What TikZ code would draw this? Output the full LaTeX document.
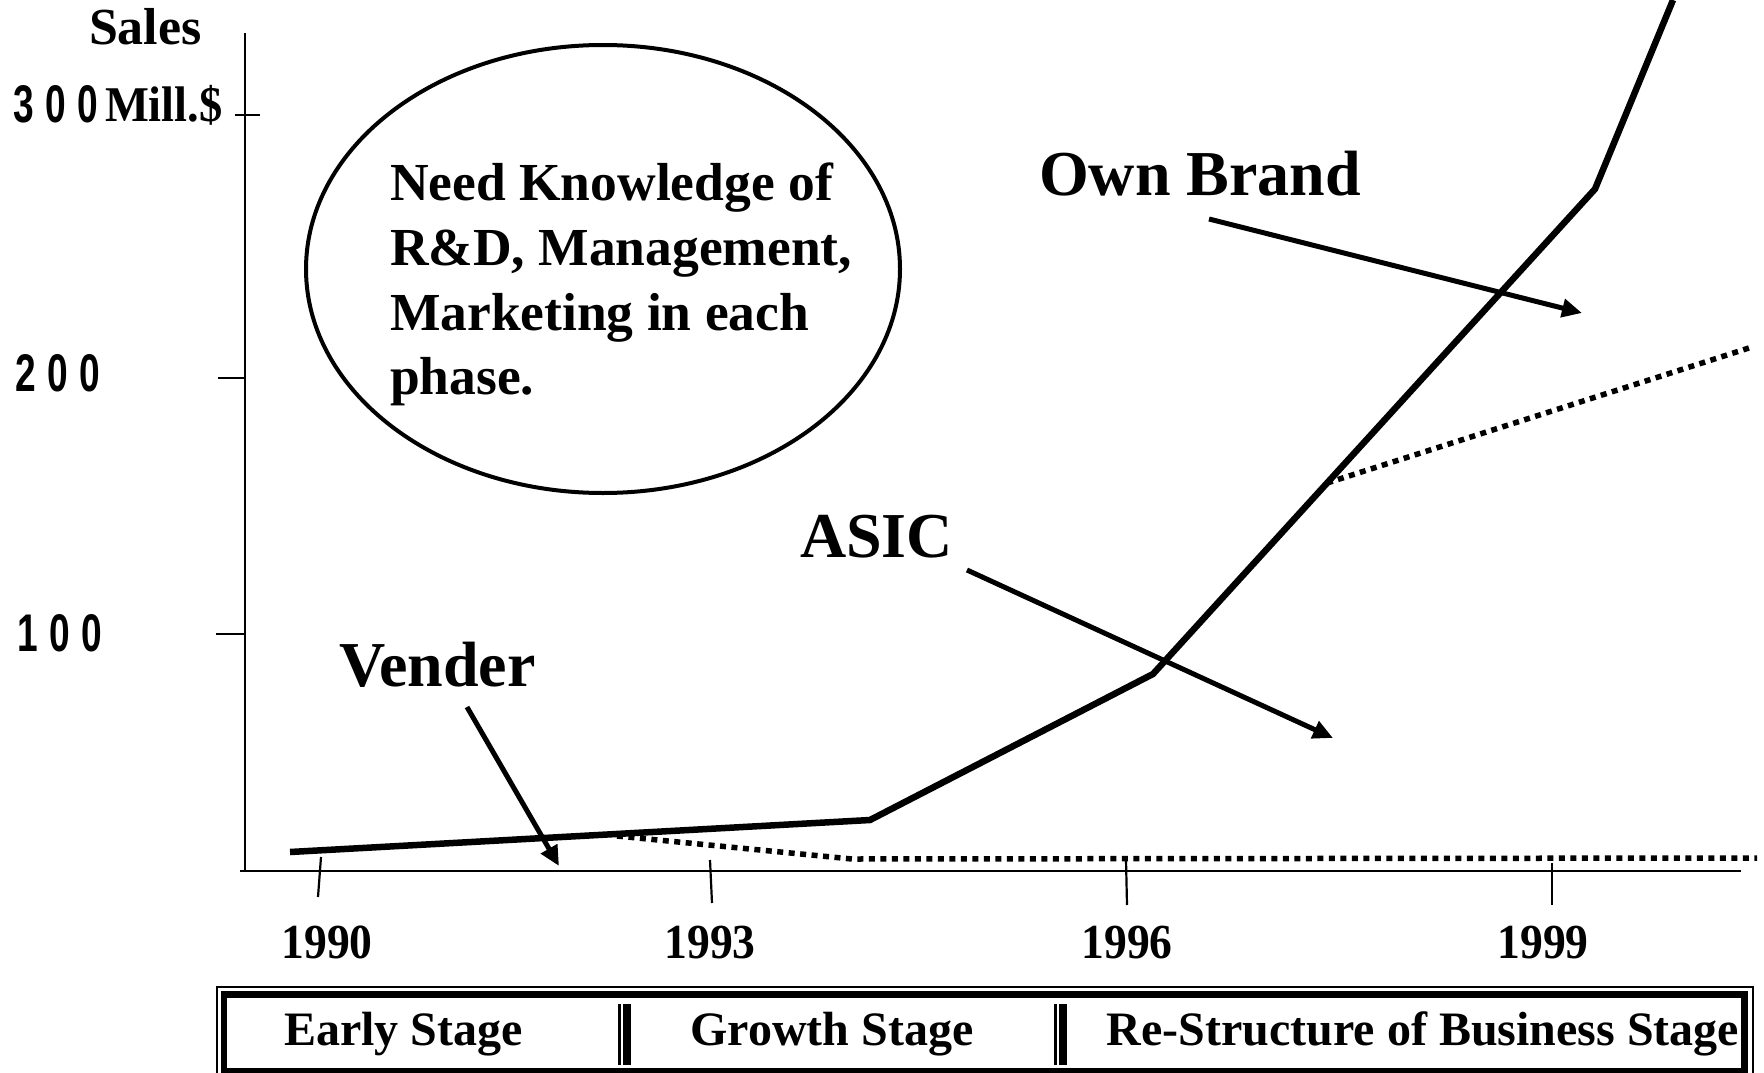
\documentclass[tikz,border=0pt]{standalone}
\usepackage{fontspec}
\setmainfont{Liberation Serif}
\newfontfamily\narrowsans[FakeStretch=0.7]{Liberation Sans}
\newfontfamily\condserif[FakeStretch=0.93]{Liberation Serif}
\usetikzlibrary{arrows.meta,shapes.geometric}
\newcommand{\dg}{\hspace{11.4pt}}
\begin{document}
\begin{tikzpicture}[x=1pt,y=-1pt,
  txt/.style={inner sep=0pt, outer sep=0pt},
  biglabel/.style={txt, anchor=base west, font=\bfseries\fontsize{64}{77}\selectfont},
  bubbletext/.style={txt, anchor=base west, font=\bfseries\fontsize{53.5}{64}\selectfont},
  ylabel/.style={txt, anchor=base west, font=\narrowsans\bfseries\fontsize{53}{60}\selectfont},
  year/.style={txt, anchor=base, font=\condserif\bfseries\fontsize{49}{56}\selectfont},
  stage/.style={txt, anchor=base, font=\bfseries\fontsize{48}{56}\selectfont},
  axis/.style={line width=2.2pt, line cap=butt},
  sales/.style={line width=6.5pt, line join=miter, line cap=butt},
  dotline/.style={line width=5.5pt, dash pattern=on 6pt off 5.5pt, line cap=butt},
  pointer/.style={line width=5pt, -{Triangle[length=20pt,width=18pt]}},
]
\useasboundingbox (0,0) rectangle (1764,1073);

% axes
\coordinate (ytop) at (245,33);
\coordinate (ybot) at (245,871);
\coordinate (xl) at (240,871);
\coordinate (xr) at (1741,871);
\draw[axis] (ytop) -- (ybot);
\draw[axis] (xl) -- (xr);
% y ticks
\coordinate (t300a) at (235,115); \coordinate (t300b) at (260,115);
\coordinate (t200a) at (218,378); \coordinate (t200b) at (245,378);
\coordinate (t100a) at (216,634); \coordinate (t100b) at (245,634);
\draw[axis] (t300a) -- (t300b);
\draw[axis] (t200a) -- (t200b);
\draw[axis] (t100a) -- (t100b);
% x ticks
\coordinate (x90a) at (321,857);  \coordinate (x90b) at (318,897);
\coordinate (x93a) at (710,860);  \coordinate (x93b) at (712,903);
\coordinate (x96a) at (1126,860); \coordinate (x96b) at (1127,905);
\coordinate (x99a) at (1552,863); \coordinate (x99b) at (1552,905);
\draw[axis] (x90a) -- (x90b);
\draw[axis] (x93a) -- (x93b);
\draw[axis] (x96a) -- (x96b);
\draw[axis] (x99a) -- (x99b);

% axis labels
\node[txt, anchor=base west, font=\bfseries\fontsize{52}{60}\selectfont] (saleslbl) at (89,45) {Sales};
\node[ylabel] (l300) at (13,122) {3\dg0\dg0};
\node[txt, anchor=base west, font=\condserif\bfseries\fontsize{50}{58}\selectfont] (mill) at (105,121) {Mill.\$};
\node[ylabel] (l200) at (15,391) {2\dg0\dg0};
\node[ylabel] (l100) at (17,651) {1\dg0\dg0};

\node[year] (y1990) at (327,958) {1990};
\node[year] (y1993) at (710,958) {1993};
\node[year] (y1996) at (1127,958) {1996};
\node[year] (y1999) at (1543,958) {1999};

% bubble
\node[draw, ellipse, line width=4pt, minimum width=594pt, minimum height=448pt, inner sep=0pt] (bubble) at (603,269) {};
\node[bubbletext] (need1) at (390,200) {Need Knowledge of};
\node[bubbletext] (need2) at (390,265) {R\&D, Management,};
\node[bubbletext] (need3) at (390,330) {Marketing in each};
\node[bubbletext] (need4) at (390,394) {phase.};

% sales curves
\coordinate (p0) at (290,852);
\coordinate (p1) at (870,820);
\coordinate (p2) at (1153,674);
\coordinate (p3) at (1595,189);
\coordinate (p4) at (1673,0);
\draw[sales] (p0) -- (p1) -- (p2) -- (p3) -- (p4);

\coordinate (d0) at (617,836);
\coordinate (d1) at (852,859);
\coordinate (d2) at (1757,858);
\draw[dotline] (d0) -- (d1) -- (d2);

\coordinate (u0) at (1327,483);
\coordinate (u1) at (1752,347);
\draw[dotline] (u0) -- (u1);

% labels and pointers
\node[biglabel] (own) at (1039,195) {Own Brand};
\node[biglabel] (asic) at (800,557) {ASIC};
\node[biglabel] (vender) at (339,686) {Vender};

\coordinate (obA) at (1209,219); \coordinate (obB) at (1582,313);
\coordinate (asA) at (967,570);  \coordinate (asB) at (1333,738);
\coordinate (veA) at (467,707);  \coordinate (veB) at (559,866);
\draw[pointer] (obA) -- (obB);
\draw[pointer] (asA) -- (asB);
\draw[pointer] (veA) -- (veB);

% stage table
\draw[line width=1.5pt] (217,987) rectangle (1753,1080);
\draw[line width=6.5pt] (224,994.5) rectangle (1744.5,1071);
\draw[line width=3pt] (619.5,1004) -- (619.5,1065);
\draw[line width=8pt] (627,1004) -- (627,1065);
\draw[line width=3pt] (1055.5,1004) -- (1055.5,1065);
\draw[line width=8pt] (1063,1004) -- (1063,1065);
\node[stage] (early) at (403.5,1045) {Early Stage};
\node[stage] (growth) at (832,1045) {Growth Stage};
\node[stage] (restr) at (1423,1045) {Re-Structure of Business Stage};
\end{tikzpicture}
\end{document}
